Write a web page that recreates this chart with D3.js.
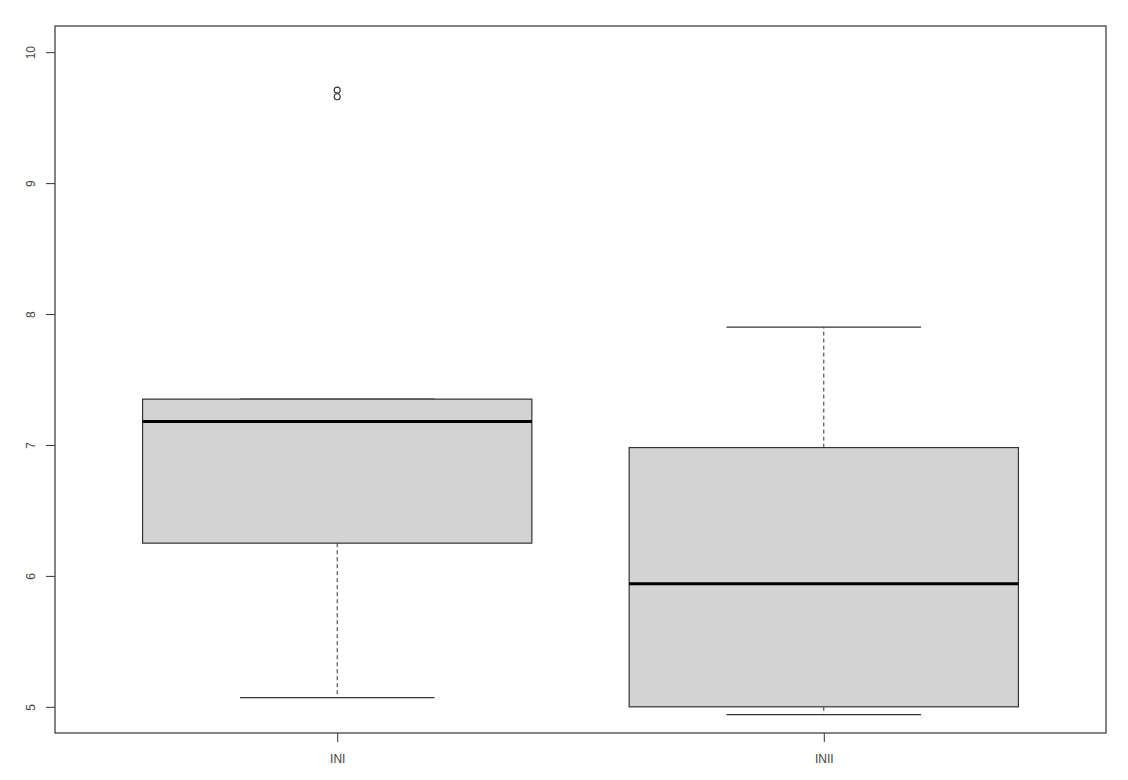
<!DOCTYPE html>
<html><head><meta charset="utf-8">
<script src="https://cdn.jsdelivr.net/npm/d3@7"></script>
<style>body{margin:0;background:#fff}svg{display:block}</style>
</head><body>
<svg id="c" width="1128" height="780"></svg>
<script>
const categories = ["INI", "INII"];
const lowerWhisker = [5.07, 4.94];
const q1 = [6.25, 5.00];
const median = [7.18, 5.94];
const q3 = [7.35, 6.98];
const upperWhisker = [7.35, 7.90];
const outliers = [[9.71, 9.66], []];
const yTicks = [5, 6, 7, 8, 9, 10];

const svg = d3.select("#c");
const L = 55, R = 1106, T = 26, B = 733;
const x = d3.scaleLinear().domain([0.42, 2.58]).range([L, R]);
const y = d3.scaleLinear().domain([4.8, 10.2]).range([B, T]);
const ink = "#333";
const txt = "#444";
const bw = 0.8, sw = 0.4;

categories.forEach((c, i) => {
  const cx = i + 1;
  const g = svg.append("g");
  g.append("line").attr("x1", x(cx)).attr("x2", x(cx))
    .attr("y1", y(q3[i])).attr("y2", y(upperWhisker[i]))
    .attr("stroke", ink).attr("stroke-width", 1).attr("stroke-dasharray", "4,3");
  g.append("line").attr("x1", x(cx)).attr("x2", x(cx))
    .attr("y1", y(q1[i])).attr("y2", y(lowerWhisker[i]))
    .attr("stroke", ink).attr("stroke-width", 1).attr("stroke-dasharray", "4,3");
  [upperWhisker[i], lowerWhisker[i]].forEach(v => {
    g.append("line").attr("x1", x(cx - sw / 2)).attr("x2", x(cx + sw / 2))
      .attr("y1", y(v)).attr("y2", y(v)).attr("stroke", ink).attr("stroke-width", 1.2);
  });
  g.append("rect").attr("x", x(cx - bw / 2)).attr("width", x(cx + bw / 2) - x(cx - bw / 2))
    .attr("y", y(q3[i])).attr("height", y(q1[i]) - y(q3[i]))
    .attr("fill", "#d3d3d3").attr("stroke", ink).attr("stroke-width", 1.2);
  g.append("line").attr("x1", x(cx - bw / 2)).attr("x2", x(cx + bw / 2))
    .attr("y1", y(median[i])).attr("y2", y(median[i]))
    .attr("stroke", "#000").attr("stroke-width", 3);
  outliers[i].forEach(v => {
    g.append("circle").attr("cx", x(cx)).attr("cy", y(v)).attr("r", 3)
      .attr("fill", "none").attr("stroke", ink).attr("stroke-width", 1.1);
  });
});

svg.append("rect").attr("x", L).attr("y", T).attr("width", R - L).attr("height", B - T)
  .attr("fill", "none").attr("stroke", ink).attr("stroke-width", 1.2);

const ya = svg.append("g").attr("transform", `translate(${L},0)`)
  .call(d3.axisLeft(y).tickValues(yTicks).tickSize(9).tickFormat(d3.format("d")));
ya.select(".domain").remove();
ya.selectAll("line").attr("stroke", ink);
ya.selectAll("text").attr("fill", txt).style("font-family", "Liberation Sans, Arial, sans-serif")
  .style("font-size", "12px")
  .attr("transform", "rotate(-90)")
  .attr("x", 0).attr("y", -20).attr("dy", "0").attr("text-anchor", "middle");

const xa = svg.append("g").attr("transform", `translate(0,${B})`)
  .call(d3.axisBottom(x).tickValues([1, 2]).tickSize(9).tickPadding(12)
    .tickFormat((d) => categories[d - 1]));
xa.select(".domain").remove();
xa.selectAll("line").attr("stroke", ink);
xa.selectAll("text").attr("fill", txt).style("font-family", "Liberation Sans, Arial, sans-serif")
  .style("font-size", "12px");
</script>
</body></html>
